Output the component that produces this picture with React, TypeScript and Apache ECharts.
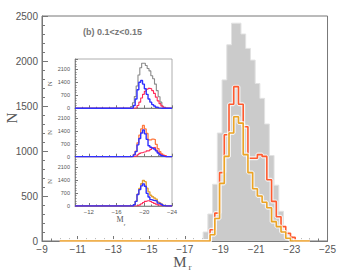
import React, { useEffect, useRef } from "react";
import * as echarts from "echarts";

// Histogram bin definitions (absolute magnitude M_r)
const BIN_WIDTH = 0.265;
const GRAY_START = -18.03;
const COLOR_START = -18.155;
const LINE_FROM = -10;
const LINE_TO = -24;

// Main panel counts
const grayCounts = [100, 300, 630, 1200, 1790, 2180, 2420, 2420, 2300, 2140, 2010, 1750, 1585, 1300, 950, 620, 330, 110];
const redCounts = [0, 125, 310, 760, 1180, 1520, 1715, 1520, 1270, 920, 920, 960, 940, 680, 440, 270, 160, 85, 40];
const goldCounts = [0, 70, 250, 640, 940, 1200, 1380, 1310, 960, 760, 580, 500, 430, 370, 215, 160, 100, 30, 0];

// Inset panels
const p1Blue = [20, 150, 500, 1000, 1400, 1500, 1300, 1050, 750, 500, 330, 200, 120, 60, 25, 10, 0, 0, 0];
const p1Red = [0, 0, 30, 150, 330, 550, 750, 920, 1020, 1070, 1050, 950, 800, 600, 400, 250, 130, 60, 20];
const p2Blue = [15, 100, 280, 650, 1000, 1300, 1460, 1250, 950, 600, 520, 470, 420, 320, 200, 110, 50, 20, 0];
const p2Red = [0, 25, 30, 110, 180, 220, 255, 270, 320, 330, 400, 490, 520, 360, 240, 160, 110, 65, 40];
const p3Blue = [0, 70, 250, 620, 880, 1080, 1190, 1060, 680, 480, 340, 310, 290, 270, 155, 120, 80, 20, 0];
const p3Red = [0, 0, 0, 20, 60, 120, 190, 250, 280, 280, 240, 190, 140, 100, 60, 40, 20, 10, 0];

const mainYTicks = { min: 0, max: 2500, interval: 500 };
const insetYTicks = { min: 0, max: 2650, interval: 700 };

function steps(start: number, values: number[], lo?: number, hi?: number) {
  const pts: number[][] = [];
  if (lo !== undefined) pts.push([lo, 0]);
  pts.push([start, 0]);
  values.forEach((v, i) => pts.push([start - i * BIN_WIDTH, v]));
  pts.push([start - values.length * BIN_WIDTH, 0]);
  if (hi !== undefined) pts.push([hi, 0]);
  return pts;
}

const minus = (v: number) => String(v).replace("-", "\u2212");
const plain = (v: number) => String(v);

export default function App() {
  const ref = useRef<HTMLDivElement>(null);
  useEffect(() => {
    const chart = echarts.init(ref.current!, undefined, { renderer: "svg" });
    const axisColor = "#777";
    const labelColor = "#555";
    const sans = "Liberation Sans, Arial, sans-serif";
    const serif = "Liberation Serif, serif";

    const insetTops = [59, 108.3, 156.7];
    const insetHeights = [49.3, 48.4, 49.3];

    const grids: any[] = [
      { left: 42, right: 7, top: 16, bottom: 30, show: true, borderColor: axisColor, borderWidth: 1 },
    ];
    insetTops.forEach((t, i) => {
      grids.push({ left: 75, width: 97, top: t, height: insetHeights[i], show: true, borderColor: "#999", borderWidth: 0.8 });
    });

    const xAxes: any[] = [
      {
        type: "value", gridIndex: 0, min: -25, max: -9, interval: 2, inverse: true,
        axisLine: { lineStyle: { color: axisColor } },
        axisTick: { inside: true, length: 5, lineStyle: { color: axisColor } },
        minorTick: { show: true, splitNumber: 4, length: 2.5, lineStyle: { color: axisColor } },
        splitLine: { show: false },
        axisLabel: { formatter: minus, fontSize: 10, color: labelColor, fontFamily: sans, margin: 3 },
      },
    ];
    const yAxes: any[] = [
      {
        type: "value", gridIndex: 0, ...mainYTicks,
        axisLine: { show: true, lineStyle: { color: axisColor } },
        axisTick: { inside: true, length: 6, lineStyle: { color: axisColor } },
        minorTick: { show: true, splitNumber: 5, length: 3, lineStyle: { color: axisColor } },
        splitLine: { show: false },
        axisLabel: { formatter: plain, fontSize: 10, color: labelColor, fontFamily: sans, margin: 4 },
      },
    ];
    for (let i = 0; i < 3; i++) {
      xAxes.push({
        type: "value", gridIndex: i + 1, min: -24, max: -10, interval: 4, inverse: true,
        axisLine: { lineStyle: { color: axisColor, width: 0.8 } },
        axisTick: { inside: true, length: 3, lineStyle: { color: axisColor } },
        minorTick: { show: true, splitNumber: 4, length: 1.5, lineStyle: { color: axisColor } },
        splitLine: { show: false },
        axisLabel: { show: i === 2, showMaxLabel: false, formatter: minus, fontSize: 6, color: labelColor, fontFamily: sans, margin: 3 },
      });
      yAxes.push({
        type: "value", gridIndex: i + 1, ...insetYTicks,
        name: "N", nameLocation: "middle", nameGap: 20, nameRotate: 90,
        nameTextStyle: { fontSize: 7, fontFamily: serif, color: labelColor },
        axisLine: { show: true, lineStyle: { color: axisColor, width: 0.8 } },
        axisTick: { inside: true, length: 3, lineStyle: { color: axisColor } },
        minorTick: { show: true, splitNumber: 5, length: 1.5, lineStyle: { color: axisColor } },
        splitLine: { show: false },
        axisLabel: { formatter: plain, fontSize: 5.5, color: labelColor, fontFamily: sans, margin: 5, showMaxLabel: false },
      });
    }

    const line = (data: number[][], color: string, width: number, xi: number, z: number) => ({
      type: "line", xAxisIndex: xi, yAxisIndex: xi, data, step: "end", symbol: "none",
      lineStyle: { color, width }, z, silent: true,
    });

    const series: any[] = [
      {
        type: "line", xAxisIndex: 0, yAxisIndex: 0, data: steps(GRAY_START, grayCounts), step: "end",
        symbol: "none", lineStyle: { color: "#e2e2e2", width: 1 }, areaStyle: { color: "#cbcbcb", opacity: 1 }, z: 1,
      },
      line(steps(COLOR_START, redCounts, LINE_FROM, LINE_TO), "rgba(255,255,255,0.75)", 4, 0, 2),
      line(steps(COLOR_START, redCounts, LINE_FROM, LINE_TO), "#ff5a2e", 1.6, 0, 3),
      line(steps(COLOR_START, goldCounts, LINE_FROM, LINE_TO), "rgba(255,255,255,0.75)", 4, 0, 4),
      line(steps(COLOR_START, goldCounts, LINE_FROM, LINE_TO), "#eca424", 1.6, 0, 5),
      // inset panel 1
      line(steps(GRAY_START, grayCounts, LINE_FROM, LINE_TO), "#8a8a8a", 1.1, 1, 3),
      line(steps(COLOR_START, p1Red, LINE_FROM, LINE_TO), "#ff2a5a", 1.1, 1, 4),
      line(steps(COLOR_START, p1Blue, LINE_FROM, LINE_TO), "#2f2fff", 1.4, 1, 5),
      // inset panel 2
      line(steps(COLOR_START, redCounts, LINE_FROM, LINE_TO), "#ff7a40", 1.3, 2, 3),
      line(steps(COLOR_START, p2Red, LINE_FROM, LINE_TO), "#ff2a5a", 1.1, 2, 4),
      line(steps(COLOR_START, p2Blue, LINE_FROM, LINE_TO), "#2f2fff", 1.4, 2, 5),
      // inset panel 3
      line(steps(COLOR_START, goldCounts, LINE_FROM, LINE_TO), "#e4a030", 1.4, 3, 3),
      line(steps(COLOR_START, p3Red, LINE_FROM, LINE_TO), "#ff2a5a", 1.1, 3, 4),
      line(steps(COLOR_START, p3Blue, LINE_FROM, LINE_TO), "#2f2fff", 1.4, 3, 5),
    ];

    chart.setOption({
      animation: false,
      backgroundColor: "#ffffff",
      grid: grids,
      xAxis: xAxes,
      yAxis: yAxes,
      series,
      graphic: [
        {
          type: "text", left: 83, top: 27,
          style: { text: "(b) 0.1<z<0.15", fontSize: 9, fontWeight: "bold", fill: "#777", fontFamily: sans },
        },
        {
          type: "text", x: 12, y: 118, rotation: Math.PI / 2,
          style: { text: "N", fontSize: 15, fill: "#555", fontFamily: serif, align: "center", verticalAlign: "middle" },
        },
        {
          type: "text", x: 180, y: 262,
          style: { text: "M", fontSize: 15, fill: "#555", fontFamily: serif, align: "center", verticalAlign: "middle" },
        },
        {
          type: "text", x: 190, y: 267,
          style: { text: "r", fontSize: 9, fill: "#555", fontFamily: serif, align: "center", verticalAlign: "middle" },
        },
        {
          type: "text", x: 120, y: 219.5,
          style: { text: "M", fontSize: 8, fill: "#555", fontFamily: serif, align: "center", verticalAlign: "middle" },
        },
        {
          type: "text", x: 124.5, y: 224,
          style: { text: "r", fontSize: 5, fill: "#555", fontFamily: serif, align: "center", verticalAlign: "middle" },
        },
      ],
    });
    return () => chart.dispose();
  }, []);
  return <div ref={ref} style={{ position: "absolute", left: 0, top: 0, width: 339, height: 271 }} />;
}
